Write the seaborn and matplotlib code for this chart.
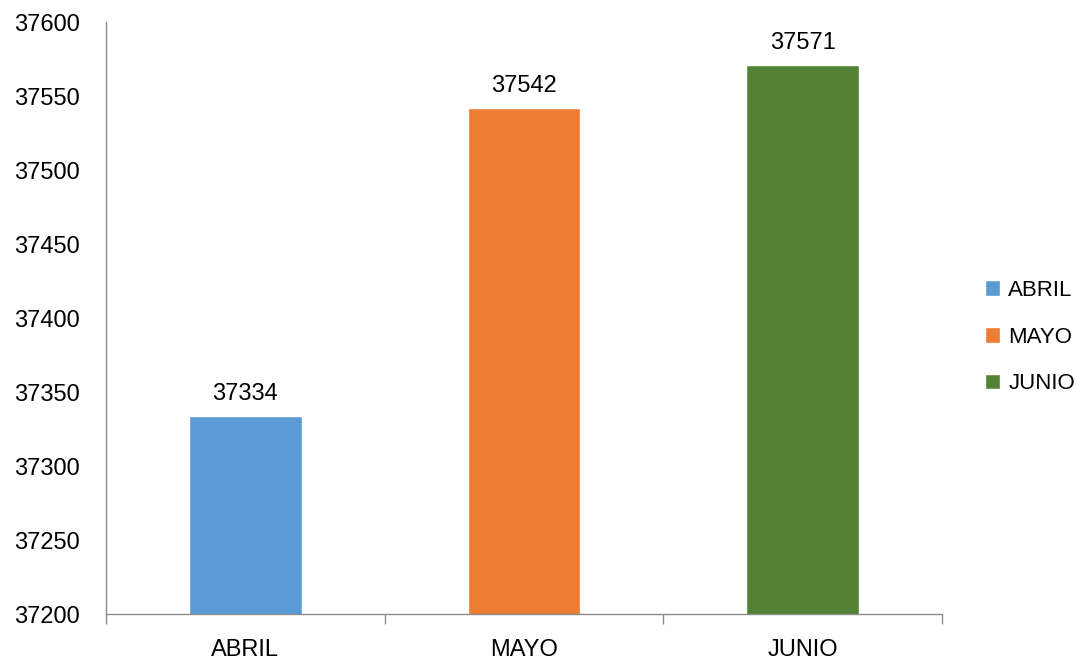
import matplotlib
matplotlib.use("Agg")
import matplotlib.pyplot as plt
import seaborn as sns
import pandas as pd
from matplotlib.ticker import FixedLocator

# data
meses = ["ABRIL", "MAYO", "JUNIO"]
valores = [37334, 37542, 37571]
colores = ["#5B9BD5", "#ED7D31", "#548235"]

df = pd.DataFrame({"mes": meses, "valor": valores})

sns.set_style("white")
plt.rcParams["font.family"] = ["Liberation Sans", "DejaVu Sans"]
plt.rcParams["font.size"] = 17
plt.rcParams["text.color"] = "black"
plt.rcParams["xtick.labelcolor"] = "black"
plt.rcParams["ytick.labelcolor"] = "black"

fig = plt.figure(figsize=(10.76, 6.61), dpi=100)
ax = fig.add_axes([0.0985, 0.0711, 0.777, 0.8956])

sns.barplot(data=df, x="mes", y="valor", hue="mes", palette=colores,
            width=0.405, dodge=False, legend=True, ax=ax, saturation=1)

ax.set_ylim(37200, 37600)
ax.set_yticks(range(37200, 37601, 50))
ax.set_xlim(-0.5, 2.5)
ax.set_xlabel("")
ax.set_ylabel("")

for c in ax.containers:
    ax.bar_label(c, fmt="%d", padding=8, fontsize=17, color="black")

gris = "#8c8c8c"
for s in ["top", "right"]:
    ax.spines[s].set_visible(False)
for s in ["left", "bottom"]:
    ax.spines[s].set_color(gris)
    ax.spines[s].set_linewidth(1)

ax.tick_params(axis="y", length=7, width=1, color=gris, pad=12, labelsize=17)
ax.tick_params(axis="x", which="major", length=0, pad=18, labelsize=17)
ax.xaxis.set_minor_locator(FixedLocator([-0.5, 0.5, 1.5, 2.5]))
ax.tick_params(axis="x", which="minor", length=7, width=1, color=gris, bottom=True)

ax.legend(loc="center left", bbox_to_anchor=(0.912, 0.49), bbox_transform=fig.transFigure,
          frameon=False, handlelength=0.7, handleheight=0.7, handletextpad=0.35,
          labelspacing=1.15, borderpad=0, fontsize=16)
ax.get_legend().set_bbox_to_anchor((0.905, 0.49), transform=fig.transFigure)

fig.savefig("out.png", dpi=100)
